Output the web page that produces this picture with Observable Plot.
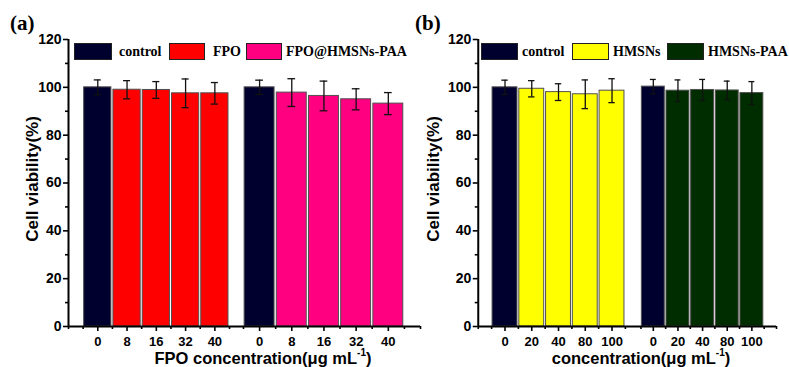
<!DOCTYPE html>
<html><head><meta charset="utf-8">
<script src="https://cdn.jsdelivr.net/npm/d3@7"></script>
<script src="https://cdn.jsdelivr.net/npm/@observablehq/plot@0.6"></script>
<style>
body{margin:0;background:#fff}
#wrap{position:relative;width:789px;height:367px;overflow:hidden;background:#fff}
#wrap svg.panel{position:absolute;top:0}
.panel text{font-family:"Liberation Sans",Arial,sans-serif;font-weight:bold;fill:#000}
#overlay{position:absolute;left:0;top:0}
</style></head><body><div id="wrap"></div>
<script>
// ---- data ----
const concA = ["0", "8", "16", "32", "40"];
const seriesA = ["FPO", "FPO@HMSNs-PAA"];
const fpoMean = [100, 99.0, 98.9, 97.5, 97.5];
const fpoErr = [3.1, 3.8, 3.5, 6.0, 4.5];
const fpoHmsnMean = [100, 97.8, 96.4, 95.0, 93.2];
const fpoHmsnErr = [3.0, 5.8, 6.2, 4.4, 4.6];

const concB = ["0", "20", "40", "80", "100"];
const seriesB = ["HMSNs", "HMSNs-PAA"];
const hmsnMean = [100, 99.4, 98.0, 97.1, 98.6];
const hmsnErr = [3.0, 3.4, 3.5, 6.0, 5.0];
const hmsnPaaMean = [100.3, 98.6, 98.9, 98.7, 97.6];
const hmsnPaaErr = [3.0, 4.5, 4.4, 3.9, 4.8];

const yTicks = [0, 20, 40, 60, 80, 100, 120];
const colorsA = ["#00002e", "#ff0000", "#ff0080"];
const colorsB = ["#00002e", "#ffff00", "#002d00"];

const wrap = document.getElementById("wrap");

function panel(conc, series, means, errs, colors, left, width, xRange) {
  const n = conc.length;
  const rows = [];
  for (let g = 0; g < 2; g++) {
    for (let i = 0; i < n; i++) {
      rows.push({pos: g * (n + 1) + i, label: conc[i], series: i === 0 ? "control" : series[g], mean: means[g][i], err: errs[g][i]});
    }
  }
  const xDomain = [-1, n - 0.5, n + 0.5, 2 * n + 1];
  const minor = Array.from(new Set(rows.flatMap(d => [d.pos - 0.5, d.pos + 0.5]).concat([xDomain[0], xDomain[3]])));
  const hw = 0.465, cap = 0.12;
  const svg = Plot.plot({
    width, height: 367, marginTop: 39, marginBottom: 41,
    marginLeft: xRange[0], marginRight: width - xRange[xRange.length - 1],
    x: {type: "linear", domain: xDomain, range: xRange},
    y: {domain: [0, 120], range: [326, 39]},
    color: {domain: ["control", ...series], range: colors},
    style: {background: "transparent", color: "#000", overflow: "visible"},
    marks: [
      Plot.rect(rows, {x1: d => d.pos - hw, x2: d => d.pos + hw, y1: 0, y2: "mean", fill: "series", stroke: "#505050", strokeWidth: 1}),
      Plot.ruleX(rows, {x: "pos", y1: d => d.mean - d.err, y2: d => d.mean + d.err, stroke: "#111", strokeWidth: 1.3}),
      Plot.ruleY(rows, {y: d => d.mean + d.err, x1: d => d.pos - cap, x2: d => d.pos + cap, stroke: "#111", strokeWidth: 1.3}),
      Plot.ruleY(rows, {y: d => d.mean - d.err, x1: d => d.pos - cap, x2: d => d.pos + cap, stroke: "#111", strokeWidth: 1.3}),
      Plot.axisY({ticks: yTicks, tickSize: 5, tickPadding: 2, strokeWidth: 1.6, label: null, fontSize: 14, tickFormat: d => String(d)}),
      Plot.axisY({ticks: yTicks.slice(1).map(v => v - 10), tickSize: 3, strokeWidth: 1.6, label: null, tickFormat: () => ""}),
      Plot.axisX({ticks: rows.map(d => d.pos), tickSize: 5, tickPadding: 5, strokeWidth: 1.6, label: null, fontSize: 13,
        tickFormat: p => (rows.find(r => r.pos === p) || {}).label}),
      Plot.axisX({ticks: minor, tickSize: 3, strokeWidth: 1.6, label: null, tickFormat: () => ""}),
      Plot.ruleY([0], {x1: xDomain[0], x2: xDomain[3], stroke: "#000", strokeWidth: 2}),
      Plot.ruleX([xDomain[0]], {y1: 0, y2: 120, stroke: "#000", strokeWidth: 2})
    ]
  });
  svg.classList.add("panel");
  svg.style.left = left + "px";
  wrap.appendChild(svg);
}

panel(concA, seriesA, [fpoMean, fpoHmsnMean], [fpoErr, fpoHmsnErr], colorsA, 0, 430, [68, 229, 243, 420]);
panel(concB, seriesB, [hmsnMean, hmsnPaaMean], [hmsnErr, hmsnPaaErr], colorsB, 410, 379, [67.75, 214.9, 230.5, 366]);

// ---- overlay: panel letters, legends, axis titles ----
const ov = d3.select(wrap).append("svg").attr("id", "overlay").attr("width", 789).attr("height", 367);
const serif = '"Liberation Serif","Times New Roman",serif';
const sans = '"Liberation Sans",Arial,sans-serif';

ov.append("text").attr("x", 10).attr("y", 30).attr("font-family", serif).attr("font-weight", "bold").attr("font-size", 21).text("(a)");
ov.append("text").attr("x", 415).attr("y", 30).attr("font-family", serif).attr("font-weight", "bold").attr("font-size", 21).text("(b)");

const legA = [["control", colorsA[0], 74, 37, 119], [seriesA[0], colorsA[1], 169, 35, 213], [seriesA[1], colorsA[2], 246, 35, 286]];
const legB = [["control", colorsB[0], 481, 36, 522], [seriesB[0], colorsB[1], 572, 36, 613], [seriesB[1], colorsB[2], 667, 36, 708]];
for (const [name, col, x, w, tx] of legA.concat(legB)) {
  ov.append("rect").attr("x", x + 0.5).attr("y", 43.5).attr("width", w).attr("height", 16).attr("fill", col).attr("stroke", "#222").attr("stroke-width", 1);
  ov.append("text").attr("x", tx).attr("y", 55.5).attr("font-family", serif).attr("font-weight", "bold").attr("font-size", 14).text(name);
}

function xTitle(cx, prefix) {
  const t = ov.append("text").attr("x", cx).attr("y", 364).attr("text-anchor", "middle")
    .attr("font-family", sans).attr("font-weight", "bold").attr("font-size", 16.5);
  t.append("tspan").text(prefix + "concentration(μg mL");
  t.append("tspan").attr("font-size", 10).attr("dy", -8).text("-1");
  t.append("tspan").attr("dy", 8).text(")");
}
xTitle(263, "FPO ");
xTitle(641, "");

function yTitle(bx) {
  ov.append("text").attr("transform", `translate(${bx},179) rotate(-90)`).attr("text-anchor", "middle")
    .attr("font-family", sans).attr("font-weight", "bold").attr("font-size", 17).text("Cell viability(%)");
}
yTitle(38);
yTitle(439);
</script></body></html>
